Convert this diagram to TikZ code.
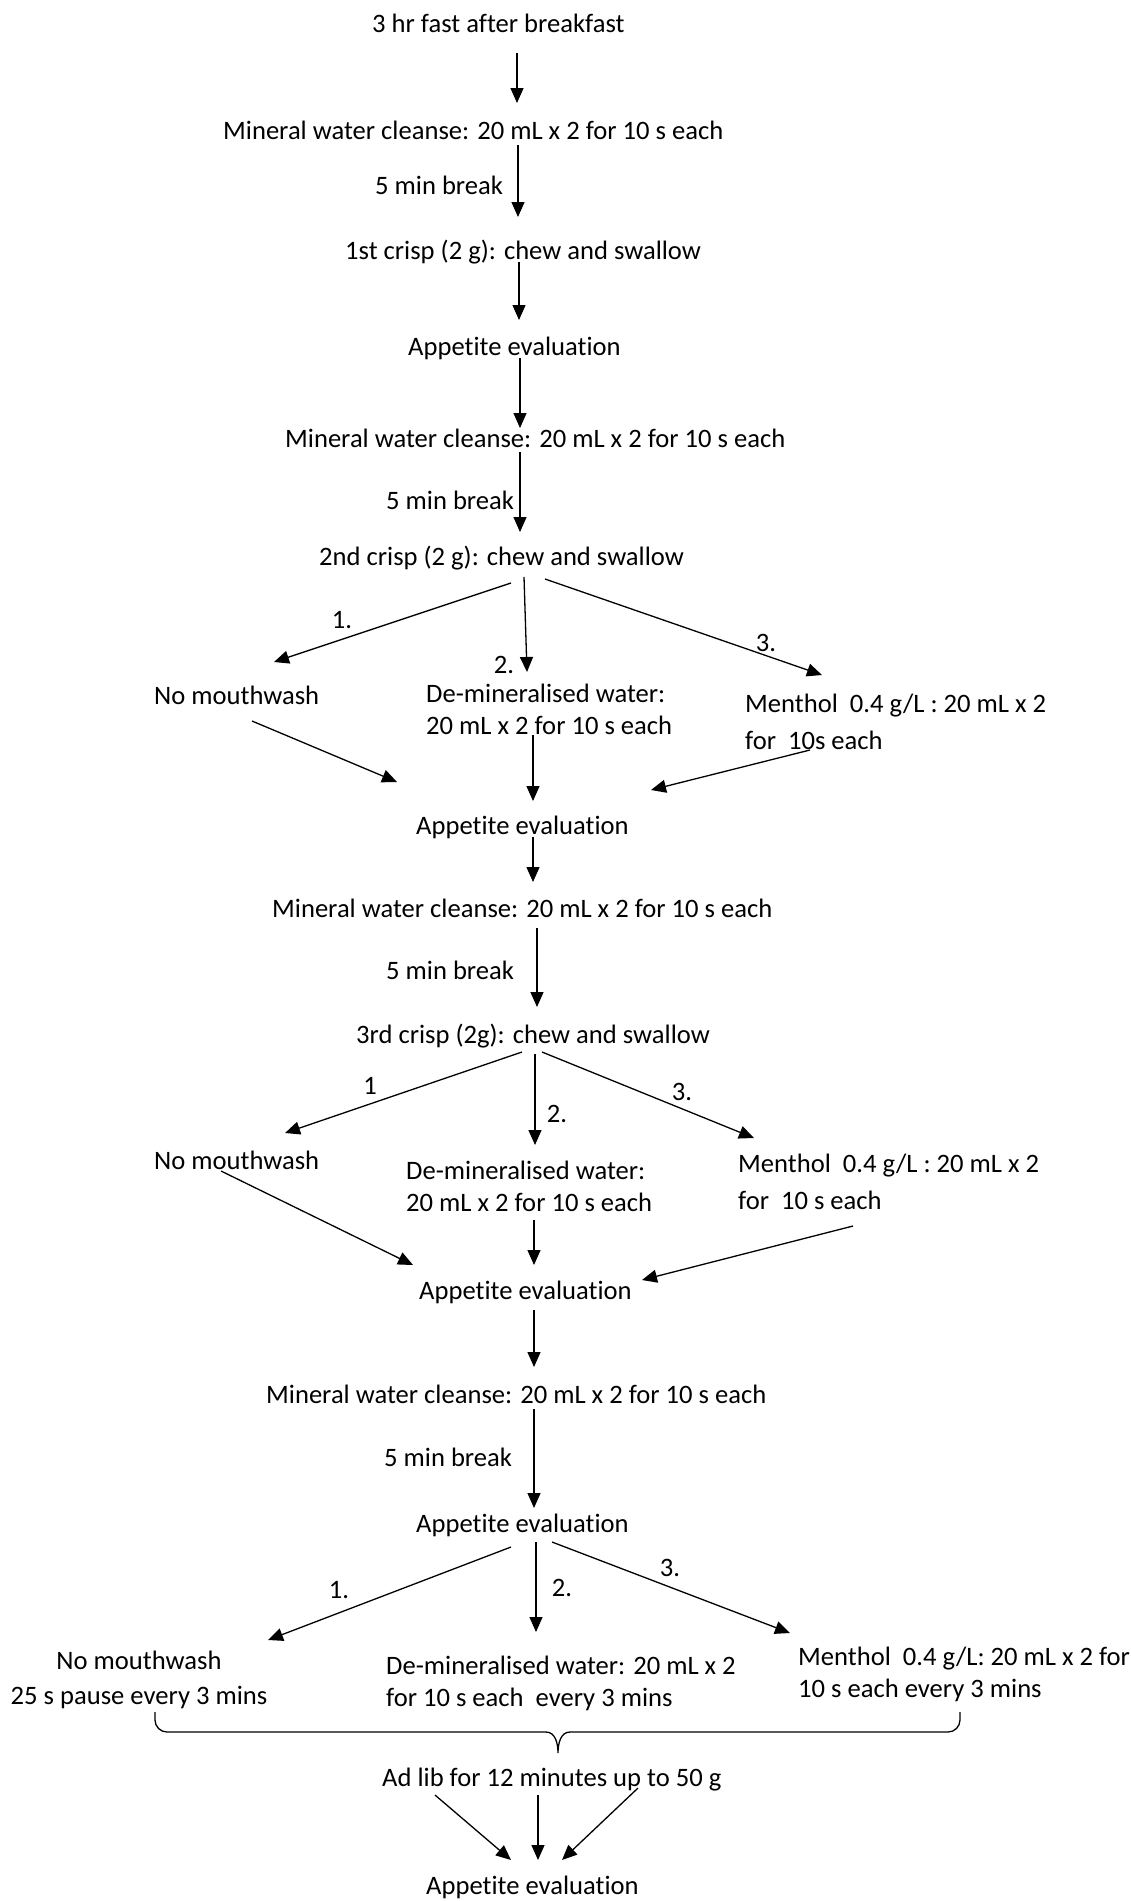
\documentclass[tikz,border=0pt]{standalone}
\usepackage{fontspec}
\setmainfont[Ligatures=NoCommon]{Carlito}
\usetikzlibrary{arrows.meta}
\begin{document}
\begin{tikzpicture}[x=1pt,y=-1pt,
  txt/.style={inner sep=0pt, anchor=west, font=\fontsize{26.6}{32}\selectfont},
  lbl/.style={inner sep=0pt, font=\fontsize{26.6}{32}\selectfont},
  arr/.style={line width=1.3pt, -{Triangle[length=15pt,width=13pt]}},
  ln/.style={line width=1.3pt}]
\useasboundingbox (0,0) rectangle (1131,1901);
% ---- texts ----
\node[txt] (t0) at (372,23) {3 hr fast after breakfast};
\node[txt] (t1) at (223,130) {Mineral water cleanse: 20 mL x 2 for 10 s each};
\node[txt] (b1) at (375,185) {5 min break};
\node[txt] (t2) at (345,252) {1st crisp (2 g): chew and swallow};
\node[txt] (t3) at (408,348) {Appetite evaluation};
\node[txt] (t4) at (285,438) {Mineral water cleanse: 20 mL x 2 for 10 s each};
\node[txt] (b2) at (386,500) {5 min break};
\node[txt] (t5) at (319,558) {2nd crisp (2 g): chew and swallow};
\node[lbl] (n1a) at (342,620) {1.};
\node[lbl] (n2a) at (504,665) {2.};
\node[lbl] (n3a) at (766,643) {3.};
\node[txt] (m1a) at (154,695) {No mouthwash};
\node[txt,align=left] (m2a) at (426,709) {De-mineralised water:\\20 mL x 2 for 10 s each};
\node[txt,align=left] (m3a) at (745,721.5) {Menthol\ \ 0.4 g/L : 20 mL x 2\\[5pt]for\ \ 10s each};
\node[txt] (t6) at (416,827) {Appetite evaluation};
\node[txt] (t7) at (272,908) {Mineral water cleanse: 20 mL x 2 for 10 s each};
\node[txt] (b3) at (386,970) {5 min break};
\node[txt] (t8) at (356,1036) {3rd crisp (2g): chew and swallow};
\node[lbl] (n1b) at (370,1086) {1};
\node[lbl] (n2b) at (557,1114) {2.};
\node[lbl] (n3b) at (682,1092) {3.};
\node[txt] (m1b) at (154,1160) {No mouthwash};
\node[txt,align=left] (m2b) at (406,1186) {De-mineralised water:\\20 mL x 2 for 10 s each};
\node[txt,align=left] (m3b) at (738,1181.5) {Menthol\ \ 0.4 g/L : 20 mL x 2\\[5pt]for\ \ 10 s each};
\node[txt] (t9) at (419,1292) {Appetite evaluation};
\node[txt] (t10) at (266,1394) {Mineral water cleanse: 20 mL x 2 for 10 s each};
\node[txt] (b4) at (384,1457) {5 min break};
\node[txt] (t11) at (416,1525) {Appetite evaluation};
\node[lbl] (n1c) at (339,1590) {1.};
\node[lbl] (n2c) at (562,1588) {2.};
\node[lbl] (n3c) at (670,1568) {3.};
\node[lbl,align=center] (m1c) at (139,1679.5) {No mouthwash\\[3pt]25 s pause every 3 mins};
\node[txt,align=left] (m2c) at (386,1683.5) {De-mineralised water: 20 mL x 2\\for 10 s each\ \ every 3 mins};
\node[txt,align=left] (m3c) at (798,1674) {Menthol\ \ 0.4 g/L: 20 mL x 2 for\\10 s each every 3 mins};
\node[txt] (t12) at (382,1780) {Ad lib for 12 minutes up to 50 g};
\node[txt] (t13) at (426,1887) {Appetite evaluation};
% ---- connector end points ----
\coordinate (a1s) at (517,53);   \coordinate (a1e) at (517,103);
\coordinate (a2s) at (518,145);  \coordinate (a2e) at (518,217);
\coordinate (a3s) at (519,262);  \coordinate (a3e) at (519,320);
\coordinate (a4s) at (520,358);  \coordinate (a4e) at (520,428);
\coordinate (a5s) at (520,452);  \coordinate (a5e) at (520,532);
\coordinate (p1s) at (511,583);  \coordinate (p1e) at (274,662);
\coordinate (p2s) at (524,577);  \coordinate (p2e) at (527,672);
\coordinate (p3s) at (545,579);  \coordinate (p3e) at (822,675);
\coordinate (q1s) at (252,721);  \coordinate (q1e) at (397,782);
\coordinate (q2s) at (533,735);  \coordinate (q2e) at (533,801);
\coordinate (q3s) at (810,750);  \coordinate (q3e) at (651,790);
\coordinate (a6s) at (533,837);  \coordinate (a6e) at (533,882);
\coordinate (a7s) at (537,928);  \coordinate (a7e) at (537,1007);
\coordinate (r1s) at (522,1052); \coordinate (r1e) at (285,1133);
\coordinate (r2s) at (535,1054); \coordinate (r2e) at (535,1145);
\coordinate (r3s) at (542,1052); \coordinate (r3e) at (754,1138);
\coordinate (s1s) at (221,1171); \coordinate (s1e) at (413,1265);
\coordinate (s2s) at (534,1220); \coordinate (s2e) at (534,1265);
\coordinate (s3s) at (853,1226); \coordinate (s3e) at (642,1280);
\coordinate (a8s) at (534,1310); \coordinate (a8e) at (534,1367);
\coordinate (a9s) at (534,1409); \coordinate (a9e) at (534,1508);
\coordinate (u1s) at (511,1547); \coordinate (u1e) at (268,1640);
\coordinate (u2s) at (536,1542); \coordinate (u2e) at (536,1632);
\coordinate (u3s) at (552,1542); \coordinate (u3e) at (790,1633);
\coordinate (v1s) at (435,1795); \coordinate (v1e) at (511,1860);
\coordinate (v2s) at (538,1795); \coordinate (v2e) at (538,1860);
\coordinate (v3s) at (638,1788); \coordinate (v3e) at (562,1860);
% ---- connectors ----
\foreach \c in {a1,a2,a3,a4,a5,p1,p2,p3,q1,q2,q3,a6,a7,r1,r2,r3,s1,s2,s3,a8,a9,u1,u2,u3,v1,v2,v3}
  \draw[arr] (\c s) -- (\c e);
% ---- brace ----
\draw[ln] (155,1712) -- (155,1720) to[out=-90,in=180] (167,1732) -- (546,1732)
  to[out=0,in=90] (558,1753) to[out=90,in=180] (570,1732) -- (948,1732)
  to[out=0,in=-90] (960,1720) -- (960,1712);
\end{tikzpicture}
\end{document}
